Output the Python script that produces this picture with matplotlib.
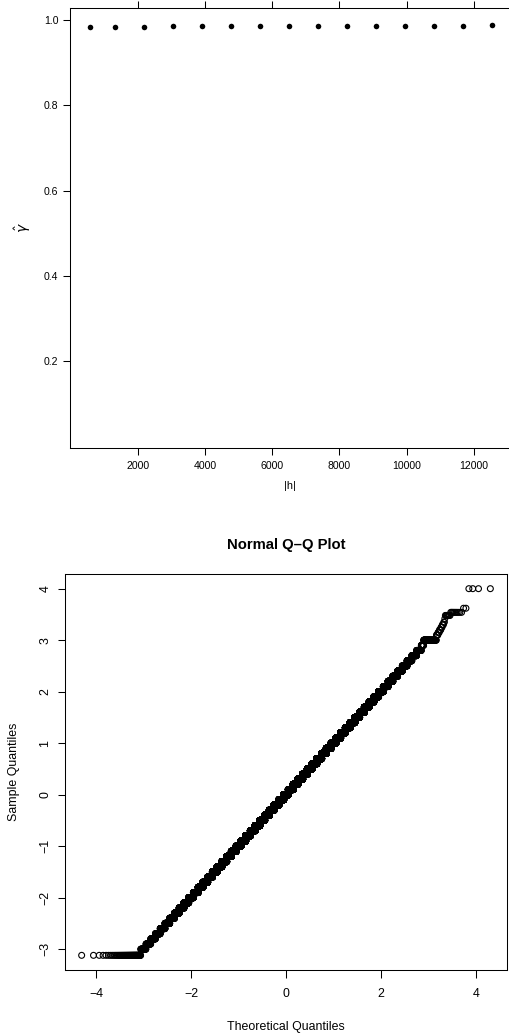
import numpy as np
import matplotlib
matplotlib.use("Agg")
import matplotlib.pyplot as plt
from statistics import NormalDist

plt.rcParams['font.family'] = ['Liberation Sans', 'DejaVu Sans']

# --- top panel: estimated gamma by lag distance ---
lag = [572, 1335, 2187, 3050, 3912, 4774, 5637, 6499, 7362, 8224,
       9087, 9949, 10811, 11674, 12546]
gamma_hat = [0.983, 0.983, 0.984, 0.985, 0.986, 0.986, 0.986, 0.986,
             0.986, 0.986, 0.986, 0.987, 0.987, 0.987, 0.988]
lag_ticks = [2000, 4000, 6000, 8000, 10000, 12000]
gamma_ticks = [0.2, 0.4, 0.6, 0.8, 1.0]

# --- bottom panel: residual sample as a frequency table ---
sample_values = [-3.12, -3.0,
                 -2.9, -2.8, -2.7, -2.6, -2.5, -2.4, -2.3, -2.2, -2.1, -2.0,
                 -1.9, -1.8, -1.7, -1.6, -1.5, -1.4, -1.3, -1.2, -1.1, -1.0,
                 -0.9, -0.8, -0.7, -0.6, -0.5, -0.4, -0.3, -0.2, -0.1, 0.0,
                 0.1, 0.2, 0.3, 0.4, 0.5, 0.6, 0.7, 0.8, 0.9, 1.0,
                 1.1, 1.2, 1.3, 1.4, 1.5, 1.6, 1.7, 1.8, 1.9, 2.0,
                 2.1, 2.2, 2.3, 2.4, 2.5, 2.6, 2.7, 2.8, 2.9, 3.0,
                 3.1, 3.15, 3.2, 3.25, 3.3, 3.35, 3.42, 3.48, 3.54, 3.62, 4.0]
sample_counts = [66, 29,
                 36, 47, 63, 82, 105, 134, 170, 213, 264, 324,
                 394, 474, 564, 665, 777, 898, 1028, 1165, 1307, 1452,
                 1597, 1738, 1873, 1999, 2112, 2210, 2288, 2346, 2382, 2394,
                 2382, 2346, 2288, 2210, 2112, 1999, 1873, 1738, 1597, 1452,
                 1307, 1165, 1028, 898, 777, 665, 564, 474, 394, 324,
                 264, 213, 170, 134, 105, 82, 63, 47, 19, 66,
                 5, 4, 4, 3, 3, 2, 1, 8, 10, 2, 4]
qq_xticks = [-4, -2, 0, 2, 4]
qq_yticks = [-3, -2, -1, 0, 1, 2, 3, 4]

W, H = 509, 1036
fig = plt.figure(figsize=(W / 100, H / 100), dpi=100)


def px_axes(left, right, top, bottom):
    return fig.add_axes([left / W, 1 - bottom / H, (right - left) / W, (bottom - top) / H])


# top panel
ax1 = px_axes(70.3, 510.5, 8.3, 447.7)
ax1.scatter(lag, gamma_hat, s=16, color='black', linewidths=0)
ax1.set_xlim(-4, 13085)
ax1.set_ylim(-0.0028, 1.0274)
ax1.set_xticks(lag_ticks)
ax1.set_yticks(gamma_ticks)
ax1.set_yticklabels([f"{v:.1f}" for v in gamma_ticks])
ax1.tick_params(axis='x', top=True, direction='out', length=5.3, width=0.75,
                labelsize=7.6, pad=4)
ax1.tick_params(axis='y', direction='out', length=5.3, width=0.75,
                labelsize=7.6, pad=3.3)
ax1.set_xlabel('|h|', fontsize=7.8)
ax1.xaxis.set_label_coords(0.499, -0.0872)
ax1.xaxis.label.set_va('center')
ax1.set_ylabel(r'$\hat{\gamma}$', fontsize=10)
ax1.yaxis.set_label_coords(-0.1075, 0.5)
ax1.yaxis.label.set_va('center')
for sp in ax1.spines.values():
    sp.set_linewidth(0.75)

# bottom panel: normal Q-Q plot
sample = np.sort(np.repeat(sample_values, sample_counts))
n = len(sample)
nd = NormalDist()
theoretical = np.array([nd.inv_cdf((i - 0.5) / n) for i in range(1, n + 1)])

ax2 = px_axes(65.3, 506.7, 574, 970)
ax2.scatter(theoretical, sample, s=18, facecolors='none', edgecolors='black',
            linewidths=0.8)
tr = theoretical.max() - theoretical.min()
sr = sample.max() - sample.min()
ax2.set_xlim(theoretical.min() - 0.04 * tr, theoretical.max() + 0.04 * tr)
ax2.set_ylim(sample.min() - 0.04 * sr, sample.max() + 0.04 * sr)
ax2.set_xticks(qq_xticks)
ax2.set_yticks(qq_yticks)
ax2.tick_params(axis='x', direction='out', length=5.8, width=0.75,
                labelsize=8.9, pad=7)
ax2.tick_params(axis='y', direction='out', length=5.0, width=0.75,
                labelsize=8.9, pad=5)
for lab in ax2.get_yticklabels():
    lab.set_rotation(90)
    lab.set_va('center')
ax2.set_title('Normal Q\u2013Q Plot', fontsize=10.7, fontweight='bold', pad=18)
ax2.set_xlabel('Theoretical Quantiles', fontsize=8.9)
ax2.xaxis.set_label_coords(0.5, -0.144)
ax2.xaxis.label.set_va('center')
ax2.set_ylabel('Sample Quantiles', fontsize=8.9)
ax2.yaxis.set_label_coords(-0.116, 0.5)
ax2.yaxis.label.set_va('center')
for sp in ax2.spines.values():
    sp.set_linewidth(0.75)

fig.savefig('out.png', dpi=100)
